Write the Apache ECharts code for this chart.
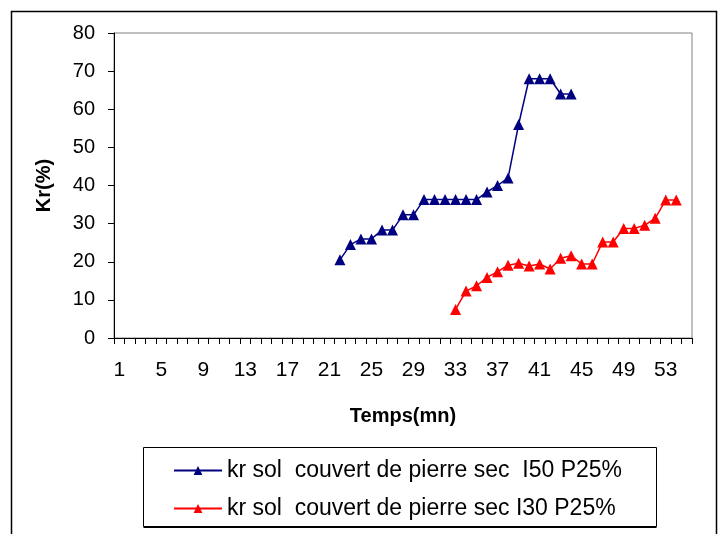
<!DOCTYPE html>
<html>
<head>
<meta charset="utf-8">
<script src="https://cdn.jsdelivr.net/npm/echarts@6/dist/echarts.min.js"></script>
<style>
html,body{margin:0;padding:0;background:#fff;}
#chart{width:727px;height:534px;}
</style>
</head>
<body>
<div id="chart"></div>
<script>
// Categories (time in minutes)
var categories = ['1','2','3','4','5','6','7','8','9','10','11','12','13','14','15','16','17','18','19','20',
  '21','22','23','24','25','26','27','28','29','30','31','32','33','34','35','36','37','38','39','40',
  '41','42','43','44','45','46','47','48','49','50','51','52','53','54','55'];

// Series 1: kr sol couvert de pierre sec I50 P25%
var blueName = 'kr sol  couvert de pierre sec  I50 P25%';
var blueTimes = ['22','23','24','25','26','27','28','29','30','31','32','33','34','35','36','37','38','39','40','41','42','43','44'];
var blueKr = [20.5, 24.5, 26, 26, 28.3, 28.3, 32.3, 32.3, 36.3, 36.3, 36.3, 36.3, 36.3, 36.3, 38.3, 40, 42, 56, 68, 68, 68, 64, 64];

// Series 2: kr sol couvert de pierre sec I30 P25%
var redName = 'kr sol  couvert de pierre sec I30 P25%';
var redTimes = ['33','34','35','36','37','38','39','40','41','42','43','44','45','46','47','48','49','50','51','52','53','54'];
var redKr = [7.5, 12.3, 13.7, 15.9, 17.4, 19.1, 19.6, 18.9, 19.4, 18.1, 20.9, 21.6, 19.4, 19.4, 25.2, 25.2, 28.7, 28.7, 29.6, 31.4, 36.2, 36.2];

// Y tick values
var yTicks = [0, 10, 20, 30, 40, 50, 60, 70, 80];

function pairs(t, v) { return t.map(function (c, i) { return [c, v[i]]; }); }

var chart = echarts.init(document.getElementById('chart'), null, {renderer: 'canvas'});
var FONT = 'Arial, "Liberation Sans", sans-serif';

chart.setOption({
  animation: false,
  backgroundColor: '#ffffff',
  grid: {
    left: 114, top: 33, width: 578, height: 305,
    show: true, borderColor: '#808080', borderWidth: 1, backgroundColor: 'transparent'
  },
  xAxis: {
    type: 'category',
    data: categories,
    boundaryGap: true,
    axisLine: {lineStyle: {color: '#000', width: 1}},
    axisTick: {show: true, interval: 0, alignWithLabel: false, length: 6, lineStyle: {color: '#000'}},
    axisLabel: {interval: 3, color: '#000', fontFamily: FONT, fontSize: 21, margin: 22},
    splitLine: {show: false},
    name: 'Temps(mn)',
    nameLocation: 'middle',
    nameGap: 68,
    nameTextStyle: {color: '#000', fontFamily: FONT, fontSize: 20, fontWeight: 'bold'}
  },
  yAxis: {
    type: 'value',
    min: yTicks[0], max: yTicks[yTicks.length - 1], interval: 10,
    axisLine: {show: true, lineStyle: {color: '#000', width: 1}},
    axisTick: {show: true, length: 6, lineStyle: {color: '#000'}},
    axisLabel: {color: '#000', fontFamily: FONT, fontSize: 20, margin: 19},
    splitLine: {show: false},
    name: 'Kr(%)',
    nameLocation: 'middle',
    nameGap: 60,
    nameRotate: 90,
    nameTextStyle: {color: '#000', fontFamily: FONT, fontSize: 20, fontWeight: 'bold'}
  },
  legend: {
    orient: 'vertical',
    left: 173, top: 459,
    padding: 0,
    itemWidth: 48, itemHeight: 11,
    itemGap: 15,
    textStyle: {color: '#000', fontFamily: FONT, fontSize: 23},
    data: [blueName, redName]
  },
  graphic: [
    {type: 'rect', shape: {x: 11.5, y: 11.5, width: 705, height: 600},
     style: {fill: 'none', stroke: '#000', lineWidth: 1.5}, silent: true},
    {type: 'rect', shape: {x: 143.5, y: 449, width: 513, height: 79},
     style: {fill: '#000', stroke: null}, silent: true, z: -1},
    {type: 'rect', shape: {x: 143.5, y: 447.5, width: 513, height: 79},
     style: {fill: '#fff', stroke: '#000', lineWidth: 1}, silent: true, z: 0}
  ],
  series: [
    {
      name: blueName, type: 'line', data: pairs(blueTimes, blueKr),
      symbol: 'triangle', symbolSize: 11, showSymbol: true, showAllSymbol: true,
      itemStyle: {color: '#000080'},
      lineStyle: {color: '#000080', width: 1.5},
      z: 3
    },
    {
      name: redName, type: 'line', data: pairs(redTimes, redKr),
      symbol: 'triangle', symbolSize: 11, showSymbol: true, showAllSymbol: true,
      itemStyle: {color: '#FF0000'},
      lineStyle: {color: '#FF0000', width: 1.5},
      z: 3
    }
  ]
});
</script>
</body>
</html>
